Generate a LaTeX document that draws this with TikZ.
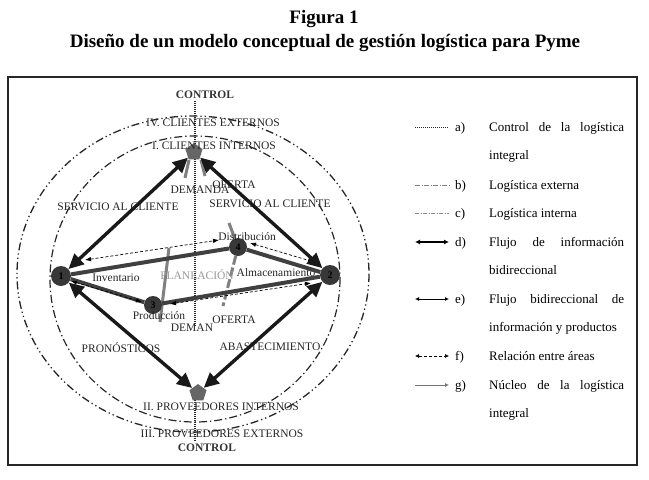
\documentclass[tikz,border=0pt]{standalone}
\usepackage{fontspec}
\setmainfont{Liberation Serif}
\usetikzlibrary{shapes.geometric, arrows.meta, positioning, calc}
\pgfdeclarelayer{background}
\pgfsetlayers{background,main}
\hyphenpenalty=10000
\tolerance=10000

\begin{document}
\begin{tikzpicture}[x=1pt, y=-1pt,
    lbl/.style={font=\fontsize{11.5}{12}\selectfont, text=black!85, inner sep=0pt},
    ctrl/.style={font=\bfseries\fontsize{11.5}{12}\selectfont, text=black!80, inner sep=0pt},
    area/.style={circle, fill=black!78, minimum size=20pt, inner sep=0pt,
                 font=\bfseries\fontsize{10}{10}\selectfont},
    client/.style={regular polygon, regular polygon sides=5, fill=black!60,
                   minimum size=18pt, inner sep=0pt},
    info/.style={line width=3.4pt, black!90,
                 {Triangle[length=15pt,width=14pt]}-{Triangle[length=15pt,width=14pt]}},
    flow/.style={line width=4pt, black!75},
    rel/.style={densely dashed, line width=0.7pt,
                {Latex[length=6pt,width=4.5pt]}-{Latex[length=6pt,width=4.5pt]}},
    core/.style={line width=3pt, black!50},
    extlog/.style={line width=1.3pt, black!85,
                   dash pattern=on 8pt off 3pt on 1.3pt off 3pt on 1.3pt off 3pt},
    intlog/.style={line width=1.2pt, black!85, dash pattern=on 8pt off 3pt on 1.3pt off 3pt},
    control/.style={line width=1.2pt, black!85, dash pattern=on 1pt off 1pt},
    legtext/.style={font=\fontsize{13}{28.6}\selectfont,
                    text width=135pt, align=justify, inner sep=0pt, anchor=base west},
    legkey/.style={font=\fontsize{13}{13}\selectfont, inner sep=0pt, anchor=base west}]

\useasboundingbox (0,0) rectangle (649,480);

\node[font=\bfseries\fontsize{19}{20}\selectfont, anchor=base] (fig) at (324,23) {Figura 1};
\node[font=\bfseries\fontsize{19}{20}\selectfont, anchor=base] (title) at (325,47)
    {Diseño de un modelo conceptual de gestión logística para Pyme};

\node[client] (cint) at (194,152) {};
\node[client] (pint) at (198,393) {};
\node[area] (a1) at (61,276) {1};
\node[area] (a2) at (330,275) {2};
\node[area, minimum size=18pt] (a3) at (153,305) {3};
\node[area, minimum size=18pt] (a4) at (238,247) {4};

\node[ctrl] (ctrltop) at (205,95) {CONTROL};
\node[lbl] (cext) at (213,123) {IV. CLIENTES EXTERNOS};
\node[lbl] (cintlbl) at (214,146) {I. CLIENTES INTERNOS};
\node[lbl] (dem1) at (200,190) {DEMANDA};
\node[lbl] (ofe1) at (234,185) {OFERTA};
\node[lbl] (serv1) at (118,207) {SERVICIO AL CLIENTE};
\node[lbl] (serv2) at (270,204) {SERVICIO AL CLIENTE};
\node[lbl] (dist) at (247,237) {Distribución};
\node[lbl] (inv) at (116,278) {Inventario};
\node[lbl, text=black!40] (plan) at (197,275) {PLANEACIÓN};
\node[lbl] (alm) at (276,273) {Almacenamiento};
\node[lbl] (prod) at (159,316) {Producción};
\node[lbl] (dem2) at (192,328) {DEMAN};
\node[lbl] (ofe2) at (234,320) {OFERTA};
\node[lbl] (pron) at (121,348) {PRONÓSTICOS};
\node[lbl] (abas) at (270,347) {ABASTECIMIENTO};
\node[lbl] (pintlbl) at (221,407) {II. PROVEEDORES INTERNOS};
\node[lbl] (pext) at (222,434) {III. PROVEEDORES EXTERNOS};
\node[ctrl] (ctrlbot) at (207,448) {CONTROL};

\coordinate (ctl1) at (195,101);
\coordinate (ctl2) at (195,326);
\coordinate (ctl3) at (195,400);
\coordinate (ctl4) at (195,441);
\coordinate (dm1) at (189,160);
\coordinate (dm2) at (185,178);
\coordinate (of1) at (201,160);
\coordinate (of2) at (205,176);
\coordinate (pr1) at (169,248);
\coordinate (pr2) at (160,322);
\coordinate (ds1) at (229,223);
\coordinate (ds2) at (223,306);

\begin{pgfonlayer}{background}
\draw[line width=1.6pt, black!85] (8,77) rectangle (637,465);
\draw[extlog] (193,274) ellipse [x radius=176, y radius=158];
\draw[intlog] (195,279) ellipse [x radius=145, y radius=143];
\draw[control] (ctl1) -- (ctl2);
\draw[control] (ctl3) -- (ctl4);
\draw[core] (dm1) -- (dm2);
\draw[core] (of1) -- (of2);
\draw[core] (pr1) -- (pr2);
\draw[core] (ds1) -- (a4);
\draw[core, dash pattern=on 9pt off 3pt] (a4) -- (ds2);
\end{pgfonlayer}

\draw[flow] (a1) -- (a4);
\draw[flow] (a4) -- (a2);
\draw[flow] (a1) -- (a3);
\draw[flow] (a3) -- (a2);

\draw[rel] ($(a1)+(24,-16)$) -- ($(a4)+(-19,-7)$);
\draw[rel] ($(a4)+(12,-4)$) -- ($(a2)+(-16,-13)$);
\draw[rel] ($(a1)+(10,5)$) -- ($(a3)+(-11,-3)$);
\draw[rel] ($(a3)+(17,-1)$) -- ($(a2)+(-19,8)$);

\draw[info] (cint) -- (a1);
\draw[info] (cint) -- (a2);
\draw[info] (pint) -- (a1);
\draw[info] (pint) -- (a2);

\draw[control, line width=1pt] (415,127) -- (449,127);
\node[legkey] (ka) at (455,131) {a)};
\node[legtext] (ta) at (489,131) {Control de la logística integral};
\draw[extlog, line width=0.7pt, black!50, dash pattern=on 5pt off 1.5pt on 1pt off 1.5pt]
    (415,185) -- (449,185);
\node[legkey] (kb) at (455,189) {b)};
\node[legtext] (tb) at (489,189) {Logística externa};
\draw[intlog, line width=0.7pt, black!45, dash pattern=on 4pt off 1.5pt on 1pt off 1.5pt]
    (415,213) -- (449,213);
\node[legkey] (kc) at (455,217) {c)};
\node[legtext] (tc) at (489,217) {Logística interna};
\draw[line width=1.6pt, {Latex[length=5pt,width=5pt]}-{Latex[length=5pt,width=5pt]}]
    (415,242) -- (449,242);
\node[legkey] (kd) at (455,246) {d)};
\node[legtext] (td) at (489,246) {Flujo de información bidireccional};
\draw[line width=0.8pt, {Latex[length=4pt,width=4pt]}-{Latex[length=4pt,width=4pt]}]
    (415,299) -- (449,299);
\node[legkey] (ke) at (455,303) {e)};
\node[legtext] (te) at (489,303) {Flujo bidireccional de información y productos};
\draw[densely dashed, line width=0.6pt, {Latex[length=4pt,width=4pt]}-{Latex[length=4pt,width=4pt]}]
    (415,356) -- (449,356);
\node[legkey] (kf) at (455,360) {f)};
\node[legtext] (tf) at (489,360) {Relación entre áreas};
\draw[line width=0.8pt, black!55, -{Latex[length=4pt,width=4pt]}] (415,385) -- (449,385);
\node[legkey] (kg) at (455,389) {g)};
\node[legtext] (tg) at (489,389) {Núcleo de la logística integral};
\end{tikzpicture}
\end{document}
